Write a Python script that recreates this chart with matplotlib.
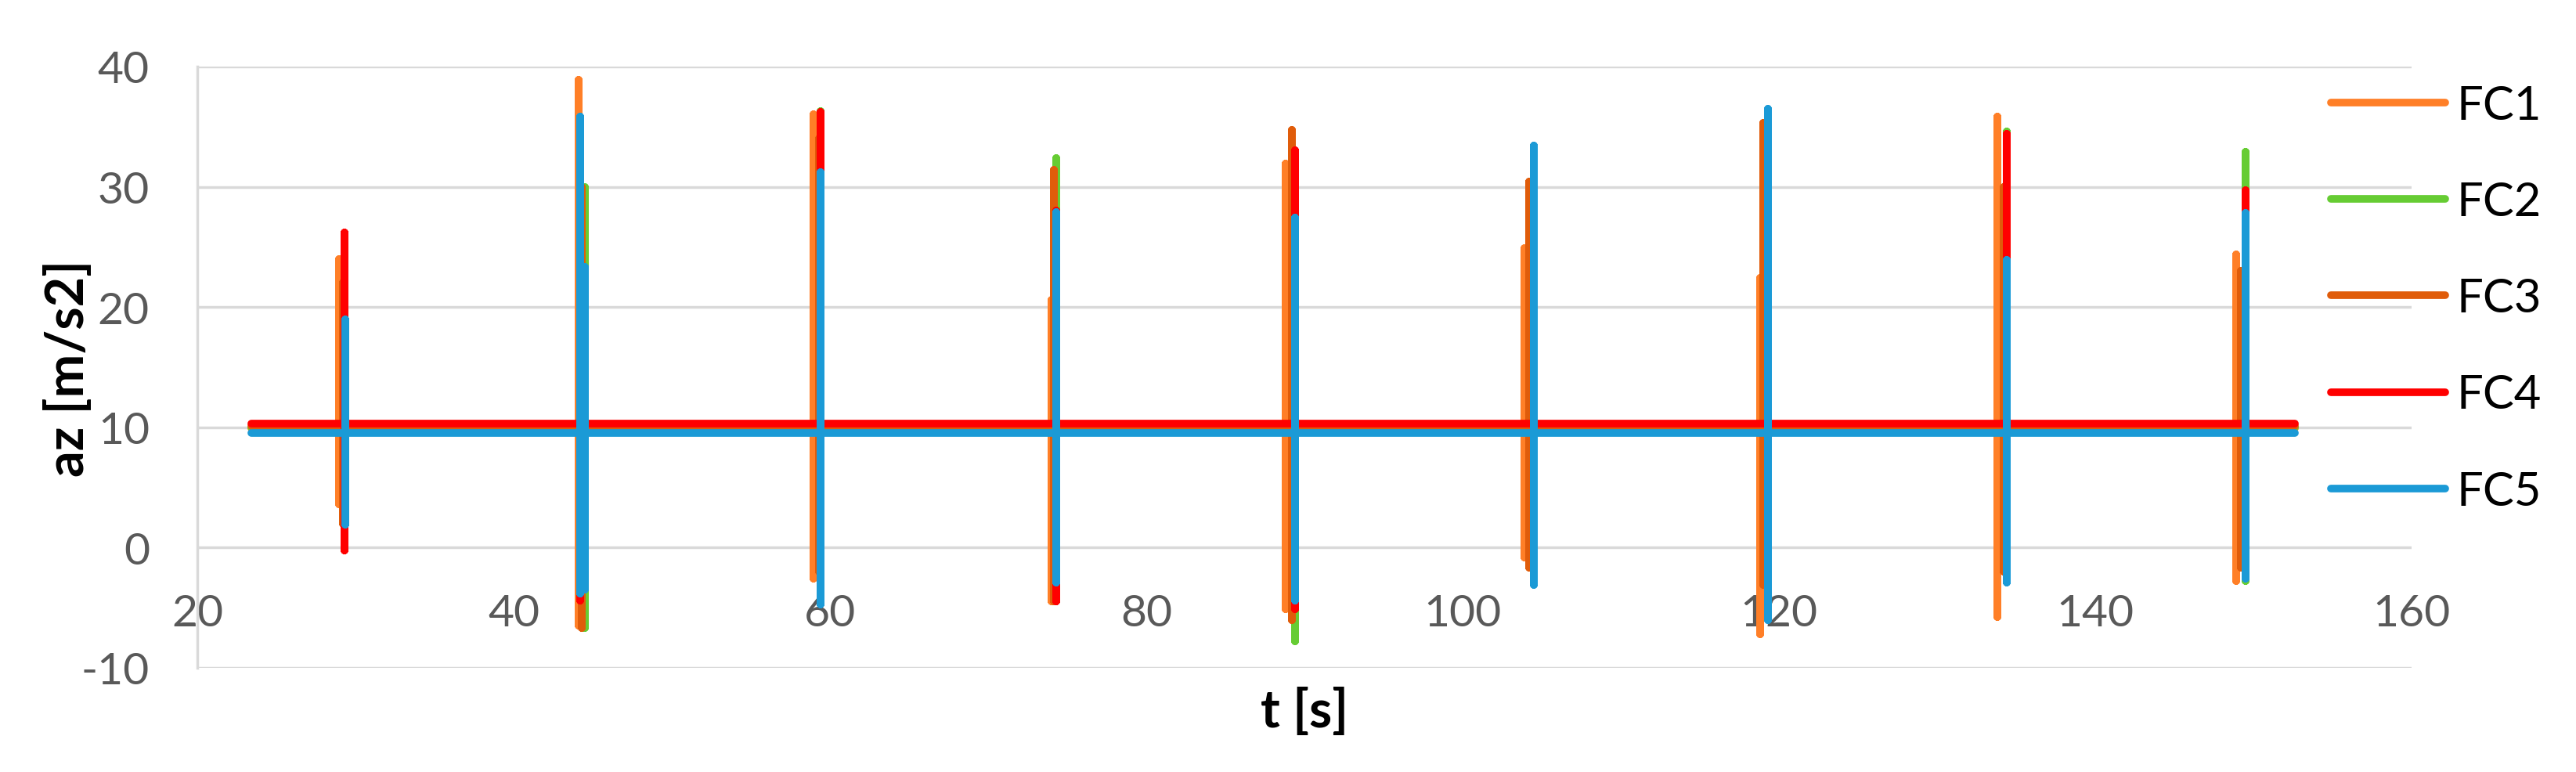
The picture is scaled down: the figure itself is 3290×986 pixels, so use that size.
import matplotlib
matplotlib.use("Agg")
from matplotlib import pyplot as plt

# recording span [s]
t_start = 23.4
t_end = 152.6

# baseline az [m/s2] for each sensor
names = ['FC1', 'FC2', 'FC3', 'FC4', 'FC5']
colors = ['#FF7F27', '#66CC33', '#E05C0A', '#FF0000', '#1B9AD6']
base = [9.9, 10.0, 10.1, 10.3, 9.5]

# impact spikes: time, peak, trough
fc1_t = [28.96, 44.1, 58.96, 74.0, 88.8, 103.9, 118.8, 133.8, 148.9]
fc1_top = [24.0, 38.9, 36.0, 20.6, 31.9, 24.9, 22.4, 35.8, 24.4]
fc1_bot = [3.6, -6.5, -2.6, -4.5, -5.1, -0.8, -7.2, -5.8, -2.75]

fc2_t = [29.3, 44.5, 59.4, 74.3, 89.4, 104.5, 119.3, 134.4, 149.5]
fc2_top = [20.0, 30.0, 36.3, 32.4, 25.0, 28.0, 30.0, 34.6, 32.9]
fc2_bot = [0.0, -6.7, -3.0, -3.0, -7.8, -2.0, -4.0, -2.0, -2.8]

fc3_t = [29.2, 44.3, 59.3, 74.15, 89.2, 104.2, 119.0, 134.2, 149.2]
fc3_top = [22.0, 30.0, 34.0, 31.4, 34.75, 30.4, 35.3, 30.0, 23.0]
fc3_bot = [2.0, -6.7, -2.0, -4.5, -6.0, -1.7, -3.1, -2.0, -1.7]

fc4_t = [29.3, 44.2, 59.4, 74.3, 89.4, 104.5, 119.3, 134.4, 149.5]
fc4_top = [26.2, 30.0, 36.2, 28.0, 33.0, 25.0, 30.0, 34.4, 29.7]
fc4_bot = [-0.25, -4.4, -3.5, -4.5, -5.1, -2.0, -4.0, -2.5, -2.5]

fc5_t = [29.35, 44.2, 44.5, 59.4, 74.3, 89.4, 104.5, 119.3, 134.4, 149.5]
fc5_top = [19.0, 35.8, 23.3, 31.2, 27.9, 27.4, 33.4, 36.5, 23.9, 27.8]
fc5_bot = [1.9, -3.8, -3.5, -4.7, -2.9, -4.4, -3.1, -6.0, -2.9, -2.6]

spikes = [(fc1_t, fc1_top, fc1_bot), (fc2_t, fc2_top, fc2_bot),
          (fc3_t, fc3_top, fc3_bot), (fc4_t, fc4_top, fc4_bot),
          (fc5_t, fc5_top, fc5_bot)]

xticks = [20, 40, 60, 80, 100, 120, 140, 160]
yticks = [-10, 0, 10, 20, 30, 40]

plt.rcParams['font.family'] = ['Lato', 'DejaVu Sans']
plt.rcParams['axes.unicode_minus'] = False

fig = plt.figure(figsize=(32.91, 9.87), dpi=100)
ax = fig.add_axes([0.0766, 0.1348, 0.8593, 0.7781])

for name, col, b, (ts, tops, bots) in zip(names, colors, base, spikes):
    xs = [t_start]
    ys = [b]
    for t, hi, lo in zip(ts, tops, bots):
        xs += [t, t, t, t]
        ys += [b, hi, lo, b]
    xs.append(t_end)
    ys.append(b)
    ax.plot(xs, ys, color=col, lw=7, label=name,
            solid_capstyle='round', solid_joinstyle='round')

ax.set_xlim(20, 160)
ax.set_ylim(-10, 40)
ax.set_xticks(xticks)
ax.set_yticks(yticks)

ax.yaxis.grid(True, color='#D9D9D9', lw=2.5)
ax.set_axisbelow(True)
for s in ['top', 'right']:
    ax.spines[s].set_visible(False)
ax.spines['left'].set_color('#D9D9D9')
ax.spines['left'].set_linewidth(2.5)
ax.spines['bottom'].set_position(('data', 0))
ax.spines['bottom'].set_visible(False)

ax.tick_params(axis='both', length=0, labelsize=41, labelcolor='#595959')
ax.tick_params(axis='y', pad=44)
ax.tick_params(axis='x', pad=42)

ax.set_xlabel('t [s]', fontsize=48, fontweight='bold')
ax.set_ylabel('az [m/s2]', fontsize=48, fontweight='bold')
ax.xaxis.set_label_coords(0.5, -0.033)
ax.yaxis.set_label_coords(-0.047, 0.5)

ax.legend(loc='upper left', bbox_to_anchor=(0.9046, 0.89), bbox_transform=fig.transFigure,
          frameon=False, fontsize=43, handlelength=2.44, handletextpad=0.25,
          labelspacing=1.16, borderpad=0, borderaxespad=0)

fig.savefig('out.png', dpi=100)
